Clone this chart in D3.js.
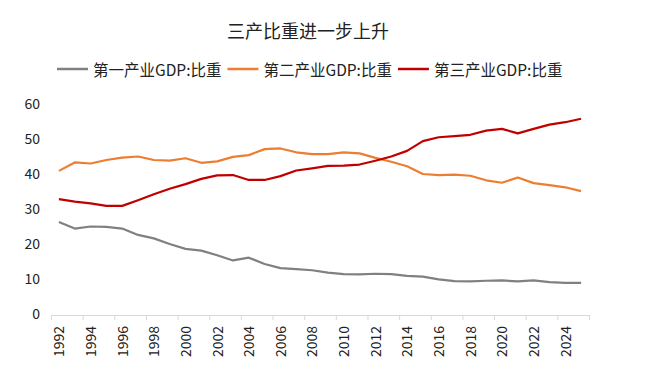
<!DOCTYPE html>
<html>
<head>
<meta charset="utf-8">
<script src="https://cdn.jsdelivr.net/npm/d3@7"></script>
<style>
  html, body { margin: 0; padding: 0; background: #fff; }
  svg { display: block; font-family: "Noto Sans CJK SC", "Noto Sans", sans-serif; }
</style>
</head>
<body>
<div id="chart-container"></div>
<script>
// 三产比重：第一/二/三产业 GDP 比重 (%)
const years = d3.range(1992, 2026);
const labelYears = d3.range(1992, 2025, 2);
const yTicks = [0, 10, 20, 30, 40, 50, 60];

const primary = [26.3, 24.4, 25.0, 24.9, 24.4, 22.6, 21.6, 20.0, 18.6, 18.1,
  16.8, 15.3, 16.1, 14.3, 13.1, 12.8, 12.5, 11.8, 11.4, 11.3,
  11.5, 11.4, 10.9, 10.7, 9.9, 9.4, 9.3, 9.5, 9.6, 9.3,
  9.6, 9.1, 8.9, 8.9];
const secondary = [40.9, 43.3, 43.0, 44.0, 44.7, 45.0, 44.0, 43.8, 44.5, 43.2,
  43.6, 44.9, 45.4, 47.1, 47.3, 46.2, 45.7, 45.7, 46.2, 45.9,
  44.6, 43.5, 42.2, 40.0, 39.7, 39.8, 39.5, 38.2, 37.5, 39.0,
  37.4, 36.8, 36.2, 35.1];
const tertiary = [32.8, 32.1, 31.6, 30.9, 30.9, 32.5, 34.2, 35.8, 37.1, 38.6,
  39.6, 39.7, 38.3, 38.3, 39.4, 41.0, 41.6, 42.3, 42.4, 42.7,
  43.8, 45.0, 46.6, 49.4, 50.5, 50.8, 51.2, 52.4, 52.9, 51.6,
  52.9, 54.1, 54.8, 55.8];

const seriesNames = ["第一产业GDP:比重", "第二产业GDP:比重", "第三产业GDP:比重"];
const seriesColors = ["#808080", "#ED7D31", "#C00000"];
const seriesValues = [primary, secondary, tertiary];

const width = 650, height = 371;
const plot = {left: 51, right: 589, top: 104, bottom: 314};

const svg = d3.select("#chart-container")
  .append("svg")
  .attr("width", width)
  .attr("height", height);

// scales: each year sits in the middle of its category slot
const x = d3.scaleLinear()
  .domain([years[0] - 0.5, years[years.length - 1] + 0.5])
  .range([plot.left, plot.right]);

const y = d3.scaleLinear()
  .domain([0, 60])
  .range([plot.bottom, plot.top]);

// title
svg.append("text")
  .attr("x", 308)
  .attr("y", 30)
  .attr("text-anchor", "middle")
  .attr("dominant-baseline", "central")
  .style("font-size", "18px")
  .style("fill", "#222")
  .text("三产比重进一步上升");

// legend
let lx = 57;
seriesNames.forEach((name, i) => {
  const item = svg.append("g").attr("transform", `translate(${lx},69)`);
  item.append("line")
    .attr("x1", 0).attr("x2", 31)
    .attr("stroke", seriesColors[i])
    .attr("stroke-width", 2.5);
  const t = item.append("text")
    .attr("x", 36)
    .attr("dominant-baseline", "central")
    .style("font-size", "15.5px")
    .style("fill", "#222")
    .text(name);
  lx += 36 + t.node().getComputedTextLength() + 6;
});

// y axis: labels only
const yAxis = svg.append("g")
  .attr("transform", `translate(${plot.left},0)`)
  .call(d3.axisLeft(y).tickValues(yTicks).tickSize(0).tickPadding(11));
yAxis.select(".domain").remove();
yAxis.selectAll("text")
  .style("font-size", "14px")
  .style("font-family", "'Noto Sans CJK SC', 'Noto Sans', sans-serif")
  .style("fill", "#222");

// x axis: line + tick marks on category boundaries
const boundaries = d3.range(years[0] - 0.5, years[years.length - 1] + 1, 2);
const xAxis = svg.append("g")
  .attr("transform", `translate(0,${y(0) + 1})`)
  .call(d3.axisBottom(x).tickValues(boundaries).tickFormat("").tickSize(5).tickSizeOuter(0));
xAxis.select(".domain").attr("stroke", "#d9d9d9");
xAxis.selectAll(".tick line").attr("stroke", "#d9d9d9");

// x labels, rotated
const xLabels = svg.append("g")
  .attr("transform", `translate(0,${y(0) + 1})`)
  .call(d3.axisBottom(x).tickValues(labelYears).tickFormat(d3.format("d")).tickSize(0));
xLabels.select(".domain").remove();
xLabels.selectAll("text")
  .attr("transform", "rotate(-90)")
  .attr("x", -11)
  .attr("y", 0)
  .attr("dy", "0.35em")
  .style("text-anchor", "end")
  .style("font-size", "14px")
  .style("font-family", "'Noto Sans CJK SC', 'Noto Sans', sans-serif")
  .style("fill", "#222");

// lines
const line = d3.line()
  .x((d, i) => x(years[i]))
  .y(d => y(d));

svg.append("g")
  .selectAll("path")
  .data(seriesValues)
  .join("path")
    .attr("d", d => line(d))
    .attr("fill", "none")
    .attr("stroke", (d, i) => seriesColors[i])
    .attr("stroke-width", 2.2)
    .attr("stroke-linejoin", "round");
</script>
</body>
</html>
